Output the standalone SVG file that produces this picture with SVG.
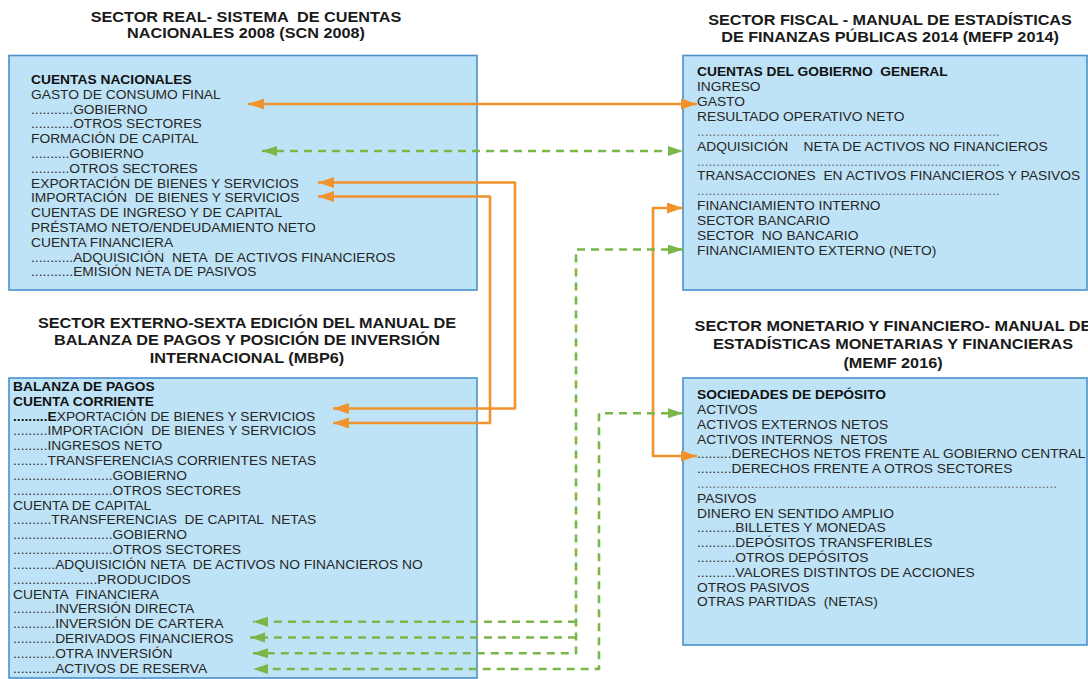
<svg xmlns="http://www.w3.org/2000/svg" width="1088" height="679" viewBox="0 0 1088 679" xml:space="preserve">
<style>
.box{fill:#BFE3F6;stroke:#4A90CC;stroke-width:1.6}
.title{font-family:"Liberation Sans",Arial,sans-serif;font-weight:bold;font-size:14.5px;fill:#1a1a1a;text-anchor:middle;white-space:pre}
.t text{font-family:"Liberation Sans",Arial,sans-serif;font-size:12.1px;fill:#262626;white-space:pre}
.t .b{font-weight:bold;fill:#111}
.t .d{fill:#666}
.or{fill:none;stroke:#F0922E;stroke-width:2.6;stroke-linejoin:round}
.gr{fill:none;stroke:#7AB648;stroke-width:2.6;stroke-dasharray:8 6;stroke-linejoin:round}
</style>
<defs>
<marker id="ao" markerUnits="userSpaceOnUse" markerWidth="17" markerHeight="12" refX="16" refY="5.5" orient="auto-start-reverse"><path d="M0,0 L16,5.5 L0,11 z" fill="#F0922E"/></marker>
<marker id="ag" markerUnits="userSpaceOnUse" markerWidth="16" markerHeight="11" refX="15" refY="5" orient="auto-start-reverse"><path d="M0,0 L15,5 L0,10 z" fill="#7AB648"/></marker>
</defs>
<rect width="1088" height="679" fill="#ffffff"/>

<g id="node-scn">
<g transform="translate(246,0) scale(1.12,1)">
<text class="title" y="22">SECTOR REAL- SISTEMA  DE CUENTAS</text>
<text class="title" y="38.5">NACIONALES 2008 (SCN 2008)</text>
</g>
<rect class="box" x="9" y="55.5" width="468" height="234.5"/>
<g class="t" transform="translate(31,0) scale(1.14,1)">
<text class="b" y="84">CUENTAS NACIONALES</text>
<text y="98.8">GASTO DE CONSUMO FINAL</text>
<text y="113.6">...........GOBIERNO</text>
<text y="128.4">...........OTROS SECTORES</text>
<text y="143.2">FORMACIÓN DE CAPITAL</text>
<text y="158">..........GOBIERNO</text>
<text y="172.8">..........OTROS SECTORES</text>
<text y="187.6">EXPORTACIÓN DE BIENES Y SERVICIOS</text>
<text y="202.4">IMPORTACIÓN  DE BIENES Y SERVICIOS</text>
<text y="217.2">CUENTAS DE INGRESO Y DE CAPITAL</text>
<text y="232">PRÉSTAMO NETO/ENDEUDAMIENTO NETO</text>
<text y="246.8">CUENTA FINANCIERA</text>
<text y="261.6">...........ADQUISICIÓN  NETA  DE ACTIVOS FINANCIEROS</text>
<text y="276.4">...........EMISIÓN NETA DE PASIVOS</text>
</g>
</g>

<g id="node-mefp">
<g transform="translate(890,0) scale(1.12,1)">
<text class="title" y="25.5">SECTOR FISCAL - MANUAL DE ESTADÍSTICAS</text>
<text class="title" y="42.5">DE FINANZAS PÚBLICAS 2014 (MEFP 2014)</text>
</g>
<rect class="box" x="683" y="55.5" width="404" height="234.5"/>
<g class="t" transform="translate(697,0) scale(1.14,1)">
<text class="b" y="76.5">CUENTAS DEL GOBIERNO  GENERAL</text>
<text y="91.35">INGRESO</text>
<text y="106.2">GASTO</text>
<text y="121.05">RESULTADO OPERATIVO NETO</text>
<text class="d" y="135.9">...............................................................................</text>
<text y="150.75">ADQUISICIÓN    NETA DE ACTIVOS NO FINANCIEROS</text>
<text class="d" y="165.6">...............................................................................</text>
<text y="180.45">TRANSACCIONES  EN ACTIVOS FINANCIEROS Y PASIVOS</text>
<text class="d" y="195.3">...............................................................................</text>
<text y="210.15">FINANCIAMIENTO INTERNO</text>
<text y="225">SECTOR BANCARIO</text>
<text y="239.85">SECTOR  NO BANCARIO</text>
<text y="254.7">FINANCIAMIENTO EXTERNO (NETO)</text>
</g>
</g>

<g id="node-mbp6">
<g transform="translate(247,0) scale(1.12,1)">
<text class="title" y="328.5">SECTOR EXTERNO-SEXTA EDICIÓN DEL MANUAL DE</text>
<text class="title" y="345.5">BALANZA DE PAGOS Y POSICIÓN DE INVERSIÓN</text>
<text class="title" y="363">INTERNACIONAL (MBP6)</text>
</g>
<rect class="box" x="9" y="378" width="468" height="300"/>
<g class="t" transform="translate(13,0) scale(1.14,1)">
<text class="b" y="391">BALANZA DE PAGOS</text>
<text class="b" y="405.8">CUENTA CORRIENTE</text>
<text y="420.7"><tspan font-weight="bold" fill="#111">.........E</tspan>XPORTACIÓN DE BIENES Y SERVICIOS</text>
<text y="435.5">.........IMPORTACIÓN  DE BIENES Y SERVICIOS</text>
<text y="450.3">.........INGRESOS NETO</text>
<text y="465.2">.........TRANSFERENCIAS CORRIENTES NETAS</text>
<text y="480">..........................GOBIERNO</text>
<text y="494.8">..........................OTROS SECTORES</text>
<text y="509.6">CUENTA DE CAPITAL</text>
<text y="524.5">..........TRANSFERENCIAS  DE CAPITAL  NETAS</text>
<text y="539.3">..........................GOBIERNO</text>
<text y="554.1">..........................OTROS SECTORES</text>
<text y="569">...........ADQUISICIÓN NETA  DE ACTIVOS NO FINANCIEROS NO</text>
<text y="583.8">......................PRODUCIDOS</text>
<text y="598.6">CUENTA  FINANCIERA</text>
<text y="613.5">...........INVERSIÓN DIRECTA</text>
<text y="628.3">...........INVERSIÓN DE CARTERA</text>
<text y="643.1">...........DERIVADOS FINANCIEROS</text>
<text y="658">...........OTRA INVERSIÓN</text>
<text y="672.8">...........ACTIVOS DE RESERVA</text>
</g>
</g>

<g id="node-memf">
<g transform="translate(893,0) scale(1.12,1)">
<text class="title" y="331.5">SECTOR MONETARIO Y FINANCIERO- MANUAL DE</text>
<text class="title" y="349.3">ESTADÍSTICAS MONETARIAS Y FINANCIERAS</text>
<text class="title" y="368">(MEMF 2016)</text>
</g>
<rect class="box" x="683" y="378" width="404" height="267"/>
<g class="t" transform="translate(697,0) scale(1.14,1)">
<text class="b" y="399.3">SOCIEDADES DE DEPÓSITO</text>
<text y="414.1">ACTIVOS</text>
<text y="428.9">ACTIVOS EXTERNOS NETOS</text>
<text y="443.7">ACTIVOS INTERNOS  NETOS</text>
<text y="458.5">.........DERECHOS NETOS FRENTE AL GOBIERNO CENTRAL</text>
<text y="473.3">.........DERECHOS FRENTE A OTROS SECTORES</text>
<text class="d" y="488.1">..............................................................................................</text>
<text y="502.9">PASIVOS</text>
<text y="517.7">DINERO EN SENTIDO AMPLIO</text>
<text y="532.5">..........BILLETES Y MONEDAS</text>
<text y="547.3">..........DEPÓSITOS TRANSFERIBLES</text>
<text y="562.1">..........OTROS DEPÓSITOS</text>
<text y="576.9">..........VALORES DISTINTOS DE ACCIONES</text>
<text y="591.7">OTROS PASIVOS</text>
<text y="606.5">OTRAS PARTIDAS  (NETAS)</text>
</g>
</g>

<g id="connectors">
<path class="or" d="M248,104 H697" marker-start="url(#ao)" marker-end="url(#ao)"/>
<path class="gr" d="M262,151 H683" marker-start="url(#ag)" marker-end="url(#ag)"/>
<path class="or" d="M318,182.5 H515 V408.5 H333" marker-start="url(#ao)" marker-end="url(#ao)"/>
<path class="or" d="M318,196.5 H490 V423 H333" marker-start="url(#ao)" marker-end="url(#ao)"/>
<path class="or" d="M683,208 H653 V456 H697" marker-start="url(#ao)" marker-end="url(#ao)"/>
<path class="gr" d="M683,249.5 H576 V653.3 H253" marker-start="url(#ag)" marker-end="url(#ag)"/>
<path class="gr" d="M576,621.7 H253" marker-end="url(#ag)"/>
<path class="gr" d="M576,637.5 H250" marker-end="url(#ag)"/>
<path class="gr" d="M683,413.3 H599 V669 H253" marker-start="url(#ag)" marker-end="url(#ag)"/>
</g>
</svg>
